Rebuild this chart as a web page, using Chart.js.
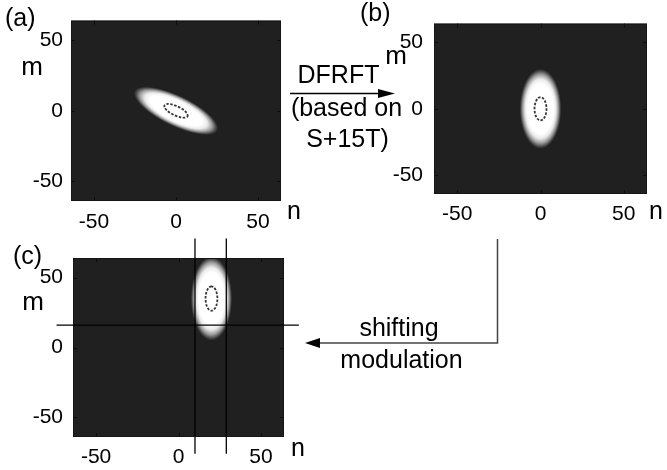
<!DOCTYPE html>
<html>
<head>
<meta charset="utf-8">
<script src="https://cdn.jsdelivr.net/npm/chart.js@4.4.0/dist/chart.umd.min.js"></script>
<style>
body { margin:0; background:#fff; width:667px; height:470px; position:relative; overflow:hidden; }
canvas { position:absolute; }
svg { position:absolute; left:0; top:0; }
text { font-family:"Liberation Sans", Arial, sans-serif; fill:#000; }
</style>
</head>
<body>
<canvas id="chartA" width="310" height="235" style="left:0;top:0"></canvas>
<canvas id="chartB" width="287" height="235" style="left:380px;top:0"></canvas>
<canvas id="chartC" width="320" height="235" style="left:0;top:235px"></canvas>
<svg width="667" height="470">
  <text x="5" y="26" font-size="25">(a)</text>
  <text x="360" y="21" font-size="25">(b)</text>
  <text x="13" y="264" font-size="25">(c)</text>
  <text x="32" y="75" font-size="26" text-anchor="middle">m</text>
  <text x="396" y="64" font-size="26" text-anchor="middle">m</text>
  <text x="33" y="310" font-size="26" text-anchor="middle">m</text>
  <text x="294" y="219" font-size="25" text-anchor="middle">n</text>
  <text x="656" y="219" font-size="25" text-anchor="middle">n</text>
  <text x="298" y="456" font-size="25" text-anchor="middle">n</text>
  <text x="338.5" y="83" font-size="25" text-anchor="middle">DFRFT</text>
  <text x="346.5" y="116" font-size="25" text-anchor="middle">(based on</text>
  <text x="347.5" y="147" font-size="25" text-anchor="middle">S+15T)</text>
  <line x1="290" y1="93.5" x2="380" y2="93.5" stroke="#000" stroke-width="1.5"/>
  <polygon points="378,89 395,93.5 378,98" fill="#000"/>
  <text x="399" y="336" font-size="25" text-anchor="middle">shifting</text>
  <text x="401.5" y="368" font-size="25" text-anchor="middle">modulation</text>
  <polyline points="497.5,239 497.5,343 318,343" fill="none" stroke="#444" stroke-width="1.5"/>
  <polygon points="320,338 305,343 320,348" fill="#000"/>
</svg>
<script>
var tickVals = [-50, 0, 50];
var axisRange = [-64, 64];

// blob of each panel (a, b, c): centre (n, m), half-length along / across its axis, tilt in degrees
var blobN = [0, 0, 20];
var blobM = [0, 0, 35];
var blobLong = [29, 30, 30];
var blobShort = [10.5, 12.5, 12.5];
var blobTilt = [-30, 90, 90];
// dark ring at the centre of each blob
var ringLong = [8, 8.7, 8.7];
var ringShort = [3.2, 3.6, 3.6];

// cross lines drawn over (c)
var crossN = [10, 29];
var crossM = [16];
var crossSpanN = [-74, 73];
var crossSpanM = [-76, 78];

var fontFamily = '"Liberation Sans", Arial, sans-serif';

function ellipsePath(ctx, chart, i, a, b) {
  var xs = chart.scales.x, ys = chart.scales.y;
  var sx = xs.getPixelForValue(1) - xs.getPixelForValue(0);
  var sy = ys.getPixelForValue(0) - ys.getPixelForValue(1);
  ctx.translate(xs.getPixelForValue(blobN[i]), ys.getPixelForValue(blobM[i]));
  ctx.scale(sx, -sy);
  ctx.rotate(blobTilt[i] * Math.PI / 180);
  ctx.scale(a, b);
  ctx.beginPath();
  ctx.arc(0, 0, 1, 0, Math.PI * 2);
}

var blobPlugin = {
  id: 'blob',
  beforeDatasetsDraw: function(chart) {
    var i = chart.options.plugins.blob.panel;
    var ctx = chart.ctx, area = chart.chartArea;
    var xs = chart.scales.x, ys = chart.scales.y;
    ctx.save();
    ctx.fillStyle = '#202020';
    ctx.fillRect(area.left, area.top, area.width, area.height);
    ctx.beginPath();
    ctx.rect(area.left, area.top, area.width, area.height);
    ctx.clip();

    ctx.save();
    ellipsePath(ctx, chart, i, blobLong[i], blobShort[i]);
    var g = ctx.createRadialGradient(0, 0, 0, 0, 0, 1);
    g.addColorStop(0, '#ffffff');
    g.addColorStop(0.62, '#ffffff');
    g.addColorStop(0.74, '#ebebeb');
    g.addColorStop(0.86, '#9a9a9a');
    g.addColorStop(0.95, '#454545');
    g.addColorStop(1, '#202020');
    ctx.fillStyle = g;
    ctx.fill();
    ctx.restore();

    // ring: build path in data space, stroke in pixel space
    ctx.save();
    ellipsePath(ctx, chart, i, ringLong[i], ringShort[i]);
    ctx.restore();
    ctx.setLineDash([2.5, 1.5]);
    ctx.lineWidth = 1.8;
    ctx.strokeStyle = '#353535';
    ctx.stroke();
    ctx.restore();

    // inner tick marks and box
    ctx.save();
    ctx.strokeStyle = '#0c0c0c';
    ctx.lineWidth = 1;
    ctx.beginPath();
    tickVals.forEach(function(v) {
      var px = Math.round(xs.getPixelForValue(v)) + 0.5;
      var py = Math.round(ys.getPixelForValue(v)) + 0.5;
      ctx.moveTo(px, area.bottom); ctx.lineTo(px, area.bottom - 4);
      ctx.moveTo(px, area.top); ctx.lineTo(px, area.top + 4);
      ctx.moveTo(area.left, py); ctx.lineTo(area.left + 4, py);
      ctx.moveTo(area.right, py); ctx.lineTo(area.right - 4, py);
    });
    ctx.stroke();
    ctx.strokeStyle = '#151515';
    ctx.strokeRect(area.left + 0.5, area.top + 0.5, area.width - 1, area.height - 1);
    ctx.restore();
  }
};

function axisOpts(fitSize, pad, isX) {
  return {
    type: 'linear',
    min: axisRange[0],
    max: axisRange[1],
    afterBuildTicks: function(s) { s.ticks = tickVals.map(function(v) { return {value: v}; }); },
    afterFit: function(s) { if (isX) { s.height = fitSize; } else { s.width = fitSize; } },
    grid: {display: false, drawTicks: false},
    border: {display: false},
    ticks: {color: '#000', padding: pad, maxRotation: 0, autoSkip: false,
      font: {family: fontFamily, size: 21}}
  };
}

function makePanel(id, i, layout, datasets) {
  datasets.unshift({
    data: [{x: blobN[i], y: blobM[i]}],
    pointRadius: 0
  });
  return new Chart(document.getElementById(id), {
    type: 'scatter',
    data: {datasets: datasets},
    options: {
      responsive: false,
      animation: false,
      devicePixelRatio: 1,
      layout: {padding: layout.padding},
      plugins: {legend: {display: false}, tooltip: {enabled: false}, blob: {panel: i}},
      scales: {
        x: axisOpts(layout.xHeight, layout.xPad, true),
        y: axisOpts(layout.yWidth, layout.yPad, false)
      }
    },
    plugins: [blobPlugin]
  });
}

function crossLines() {
  var sets = [];
  crossN.forEach(function(n) {
    sets.push({data: [{x: n, y: crossSpanM[0]}, {x: n, y: crossSpanM[1]}]});
  });
  crossM.forEach(function(m) {
    sets.push({data: [{x: crossSpanN[0], y: m}, {x: crossSpanN[1], y: m}]});
  });
  sets.forEach(function(s) {
    s.showLine = true;
    s.borderColor = '#000';
    s.borderWidth = 1.3;
    s.pointRadius = 0;
    s.clip = false;
  });
  return sets;
}

makePanel('chartA', 0, {padding: {left: 0, right: 29, top: 17, bottom: 0}, yWidth: 71, xHeight: 34, yPad: 8, xPad: 9}, []);
makePanel('chartB', 1, {padding: {left: 0, right: 20, top: 13, bottom: 0}, yWidth: 54, xHeight: 41, yPad: 11, xPad: 8}, []);
makePanel('chartC', 2, {padding: {left: 0, right: 36, top: 23, bottom: 0}, yWidth: 73, xHeight: 33, yPad: 10, xPad: 8}, crossLines());
</script>
</body>
</html>
